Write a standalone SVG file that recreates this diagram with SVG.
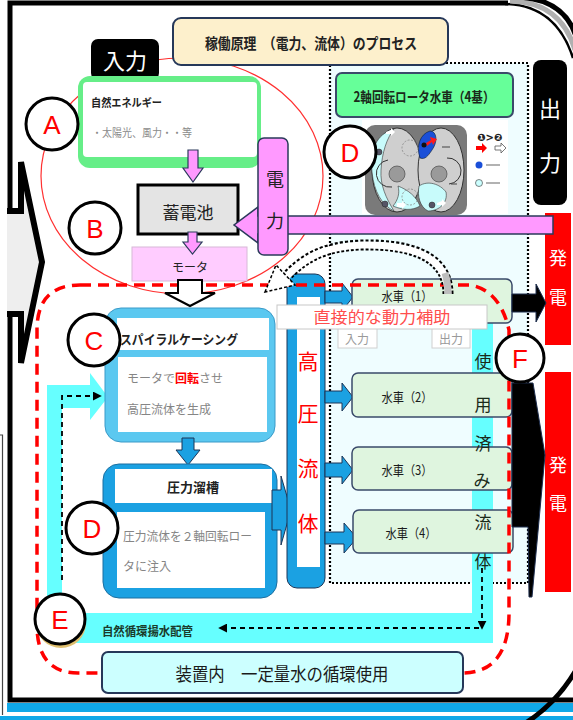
<svg xmlns="http://www.w3.org/2000/svg" width="573" height="720" viewBox="0 0 573 720">
<defs>
<style>
.jp{font-family:"Noto Sans CJK JP","Noto Sans",sans-serif;}
.b{font-weight:bold;}
.mid{text-anchor:middle;}
.nv{stroke:#263859;stroke-width:2;}
.let{font-family:"Liberation Sans",Arial,sans-serif;font-size:26px;fill:#ff0000;text-anchor:middle;}
.lc{fill:#fff;stroke:#000;stroke-width:3;}
.wheel{fill:#dff5df;stroke:#3a4a6a;stroke-width:1.5;}
.wt{font-size:13px;fill:#1a1a1a;text-anchor:middle;}
.blu{fill:#1ba1e2;stroke:#1d3557;stroke-width:1;}
.gr{fill:#858585;font-size:12px;}
.dash{fill:none;stroke:#000;stroke-width:1.8;stroke-dasharray:5 4;}
.cy{fill:#66ffff;}
.vt{font-size:17px;fill:#1a2a1a;text-anchor:middle;}
.rt{font-size:21px;fill:#ff0000;text-anchor:middle;}
</style>
<marker id="ah" viewBox="0 0 10 10" refX="8" refY="5" markerWidth="5" markerHeight="5" orient="auto"><path d="M0,0 L10,5 L0,10 Z" fill="#000"/></marker>
</defs>

<!-- page and outer frame -->
<g id="frame">
<rect width="573" height="720" fill="#fff"/>
<path d="M10,208 V3 H508" fill="none" stroke="#000" stroke-width="5"/>
<path d="M10,317 V700 H573" fill="none" stroke="#000" stroke-width="5"/>
<rect x="7" y="703" width="566" height="9" fill="#10a8e8"/>
<rect x="0" y="716" width="573" height="4" fill="#10a8e8"/>
<path d="M524,724 Q556,704 576,670" fill="none" stroke="#000" stroke-width="5"/>
<path d="M505,4 Q556,5 573,58" fill="none" stroke="#000" stroke-width="2.5"/>
<path d="M510,1 Q561,2 575,50" fill="none" stroke="#b0b0b0" stroke-width="5"/>
<path d="M515,-3 Q566,-2 577,40" fill="none" stroke="#000" stroke-width="5"/>
<path d="M0,435 H2.5 V715" fill="none" stroke="#444" stroke-width="1.2"/>
</g>

<!-- input block arrow on the left edge -->
<g id="input-arrow">
<path d="M7,211 H21 V162 L42,262 L21,363 V314 H7" fill="#eeeeee" stroke="#000" stroke-width="6" stroke-linejoin="miter"/>
</g>

<!-- water wheel area -->
<g id="wheel-area">
<rect x="330" y="63" width="198" height="520" fill="#effdff" stroke="#000" stroke-width="2.2" stroke-dasharray="2 2"/>
</g>

<ellipse id="source-ring" cx="182" cy="176" rx="141" ry="118" fill="none" stroke="#ff3030" stroke-width="1.2"/>

<g id="title">
<rect x="173" y="18" width="275" height="47" rx="8" fill="#fdf0cc" class="nv" stroke-width="2.5"/>
<text x="311" y="49" class="jp b mid" font-size="15" fill="#222" textLength="212" lengthAdjust="spacingAndGlyphs">稼働原理　（電力、流体）のプロセス</text>
</g>

<g id="input-label">
<rect x="91" y="39" width="68" height="41" rx="7" fill="#000"/>
<text x="125" y="69" class="jp mid" font-size="22" fill="#fff">入力</text>
</g>

<g id="natural-energy">
<rect x="78" y="76" width="183" height="92" rx="12" fill="#66ee88"/>
<rect x="83" y="82" width="174" height="75" rx="4" fill="#fff"/>
<text x="91" y="107" class="jp b" font-size="11" fill="#222" textLength="71" lengthAdjust="spacingAndGlyphs">自然エネルギー</text>
<text x="92" y="137" class="jp" font-size="11" fill="#8a8a8a" textLength="100" lengthAdjust="spacingAndGlyphs">・太陽光、風力・・等</text>
</g>

<g id="battery">
<rect x="138" y="185" width="100" height="49" fill="#e4e4e4" stroke="#000" stroke-width="3"/>
<text x="188" y="219" class="jp mid" font-size="17" fill="#222">蓄電池</text>
</g>

<g id="motor">
<rect x="132" y="247" width="115" height="34" fill="#ffccff" stroke="#d8b8d8" stroke-width="1"/>
<text x="190" y="272" class="jp mid" font-size="12" fill="#222">モータ</text>
</g>

<!-- pink feed arrows -->
<g id="power-arrows" fill="#ff99ff" stroke="#2a3a5a" stroke-width="1.2">
<polygon points="188,150 198,150 198,168 203,168 193,182 183,168 188,168"/>
<polygon points="188,232 197,232 197,242 202,242 192.5,254 183,242 188,242"/>
</g>

<g id="generator-1">
<rect x="545" y="213" width="26" height="132" fill="#ff0000"/>
<text x="558" y="265" class="jp mid" font-size="18" fill="#fff">発</text>
<text x="558" y="304" class="jp mid" font-size="18" fill="#fff">電</text>
</g>
<g id="generator-2">
<rect x="545" y="372" width="26" height="220" fill="#ff0000"/>
<text x="558" y="472" class="jp mid" font-size="18" fill="#fff">発</text>
<text x="558" y="510" class="jp mid" font-size="18" fill="#fff">電</text>
</g>

<g id="power-return">
<polygon points="553,216 553,234 258,234 258,243 234,225 258,207 258,216" fill="#ff99ff" stroke="#2a3a5a" stroke-width="1.5"/>
</g>

<g id="power-label">
<rect x="258" y="138" width="30" height="117" rx="6" fill="#ff99ff" stroke="#2a3a5a" stroke-width="1.5"/>
<text x="275" y="186" class="jp mid" font-size="18" fill="#222">電</text>
<text x="275" y="228" class="jp mid" font-size="18" fill="#222">力</text>
</g>

<g id="output-label">
<rect x="533" y="60" width="34" height="145" rx="8" fill="#000"/>
<text x="550" y="117" class="jp mid" font-size="22" fill="#fff">出</text>
<text x="550" y="171" class="jp mid" font-size="22" fill="#fff">力</text>
</g>

<g id="rotor-title">
<rect x="336" y="73" width="177" height="44" rx="6" fill="#66ff99" stroke="#3a4a6a" stroke-width="2"/>
<text x="424" y="102" class="jp b mid" font-size="14" fill="#1a2a1a" textLength="141" lengthAdjust="spacingAndGlyphs">2軸回転ロータ水車（4基）</text>
</g>

<!-- twin rotor sketch -->
<g id="rotor">
<rect x="362" y="120" width="146" height="94" fill="#fff"/>
<rect x="365" y="125" width="102" height="90" rx="10" fill="#7a7a7a"/>
<ellipse cx="397" cy="170" rx="25" ry="42" fill="#cfcfcf" stroke="#333" stroke-width="1"/>
<ellipse cx="441" cy="170" rx="23" ry="42" fill="#cfcfcf" stroke="#333" stroke-width="1"/>
<path d="M394,129 C376,134 370,150 372,172 C374,192 382,205 394,211 C386,198 380,185 381,170 C382,152 387,138 394,129 Z" fill="#c8fbfb" stroke="#333" stroke-width="0.6"/>
<path d="M398,186 C408,190 416,196 420,206 C412,211 402,210 393,206 C398,200 400,193 398,186 Z" fill="#c8fbfb" stroke="#333" stroke-width="0.6"/>
<path d="M419,186 C428,180 440,184 446,192 C448,202 440,211 428,211 C420,207 417,196 419,186 Z" fill="#c8fbfb" stroke="#333" stroke-width="0.6"/>
<path d="M420,158 C416,146 420,134 430,131 C437,131 438,142 432,150 C428,156 425,160 420,158 Z" fill="#1a4fd8" stroke="#123" stroke-width="0.6"/>
<polygon points="426,143 431,140 430,137 437,139 433,145 432,142 427,146" fill="#ff1a1a"/>
<circle cx="424" cy="145" r="2.5" fill="#111"/>
<circle cx="397" cy="174" r="8" fill="#9a9a9a" stroke="#555" stroke-width="0.8"/>
<circle cx="439" cy="174" r="8" fill="#9a9a9a" stroke="#555" stroke-width="0.8"/>
<circle cx="410" cy="148" r="8" fill="none" stroke="#888" stroke-width="0.8" stroke-dasharray="2 1.5"/>
<circle cx="410" cy="197" r="8" fill="none" stroke="#888" stroke-width="0.8" stroke-dasharray="2 1.5"/>
<path d="M388,160 A12,12 0 0 0 392,187" fill="none" stroke="#333" stroke-width="1"/>
<path d="M447,158 A12,12 0 0 1 449,184" fill="none" stroke="#333" stroke-width="1"/>
<circle cx="379" cy="152" r="3" fill="#556" stroke="#222" stroke-width="0.5"/>
<circle cx="385" cy="204" r="3" fill="#556" stroke="#222" stroke-width="0.5"/>
<circle cx="432" cy="205" r="3" fill="#556" stroke="#222" stroke-width="0.5"/>
<path d="M386,132 l5,-2 v-2 l4,4 l-4,4 v-2 l-5,0 z" fill="#fff"/>
<path d="M397,203 l5,0 v-2 l4,4 l-4,4 v-2 l-5,0 z" fill="#fff"/>
<path d="M437,203 l5,-2 v-2 l4,4 l-4,4 v-2 l-5,0 z" fill="#fff"/>
<path d="M442,147 h8 M451,184 h6" stroke="#444" stroke-width="1.2"/>
<text x="477" y="141" font-family="DejaVu Sans,sans-serif" font-size="10" font-weight="bold" fill="#222">❶&gt;❷</text>
<polygon points="476,146 482,146 482,143 487,148 482,153 482,150 476,150" fill="#ff0000"/>
<polygon points="495,146 501,146 501,143 506,148 501,153 501,150 495,150" fill="#fff" stroke="#555" stroke-width="0.8"/>
<circle cx="479" cy="165" r="3.5" fill="#1a4fd8"/>
<circle cx="479" cy="183" r="3.5" fill="#ccffff" stroke="#333" stroke-width="0.6"/>
<path d="M486,165 h14 M486,183 h14" stroke="#999" stroke-width="1.5"/>
</g>

<!-- return piping -->
<g id="return-pipe">
<rect x="472" y="288" width="21" height="355" class="cy"/>
<rect x="47" y="613" width="446" height="30" class="cy"/>
<rect x="47" y="385" width="15" height="258" class="cy"/>
<polygon points="47,385 90,385 90,373 108,397 90,420 90,408 47,408" class="cy"/>
</g>

<g id="spiral-casing">
<rect x="105" y="308" width="170" height="134" rx="16" fill="#5bc8f0" stroke="#3a9ac8" stroke-width="1"/>
<rect x="117" y="318" width="152" height="32" fill="#fff"/>
<rect x="118" y="357" width="149" height="75" fill="#fff"/>
<text x="120" y="344" class="jp b" font-size="13" fill="#222" textLength="118" lengthAdjust="spacingAndGlyphs">スパイラルケーシング</text>
<text x="127" y="383" class="jp" font-size="12" fill="#858585">モータで<tspan fill="#ff0000" font-weight="bold">回転</tspan>させ</text>
<text x="127" y="414" class="jp gr">高圧流体を生成</text>
</g>

<polygon id="casing-to-tank" points="182,438 194,438 194,450 200,450 188,465 176,450 182,450" class="blu"/>

<g id="pressure-tank">
<rect x="103" y="464" width="174" height="134" rx="16" fill="#1ba1e2" stroke="#1d6fa0" stroke-width="1"/>
<rect x="115" y="469" width="157" height="34" fill="#fff"/>
<rect x="117" y="512" width="148" height="76" fill="#fff"/>
<text x="193" y="492" class="jp b mid" font-size="13" fill="#222">圧力溜槽</text>
<text x="123" y="541" class="jp gr" textLength="129" lengthAdjust="spacingAndGlyphs">圧力流体を２軸回転ロー</text>
<text x="123" y="571" class="jp gr">タに注入</text>
</g>

<polygon id="tank-to-column" points="272,490 281,490 281,476 291,510 281,545 281,530 272,530" class="blu"/>

<g id="high-pressure-column">
<rect x="287" y="274" width="38" height="314" rx="10" fill="#1ba1e2" stroke="#1d3557" stroke-width="1"/>
<rect x="297" y="297" width="23" height="270" fill="#fff"/>
<text x="308" y="369" class="jp rt">高</text>
<text x="308" y="421" class="jp rt">圧</text>
<text x="308" y="476" class="jp rt">流</text>
<text x="308" y="531" class="jp rt">体</text>
</g>

<g id="feed-arrows">
<polygon points="325,291 342,291 342,283 353,297 342,311 342,303 325,303" class="blu"/>
<polygon points="325,391 342,391 342,383 353,397 342,411 342,403 325,403" class="blu"/>
<polygon points="325,463 342,463 342,456 353,470 342,484 342,477 325,477" class="blu"/>
<polygon points="325,532 344,532 344,523 357,538 344,553 344,544 325,544" class="blu"/>
</g>

<g id="wheel-1">
<rect x="352" y="279" width="160" height="44" rx="6" class="wheel"/>
<text x="407" y="301" class="jp wt" font-size="12" textLength="51" lengthAdjust="spacingAndGlyphs">水車（1）</text>
</g>
<g id="wheel-2">
<rect x="352" y="373" width="160" height="44" rx="6" class="wheel"/>
<text x="407" y="402" class="jp wt" textLength="51" lengthAdjust="spacingAndGlyphs">水車（2）</text>
</g>
<g id="wheel-3">
<rect x="352" y="447" width="160" height="43" rx="6" class="wheel"/>
<text x="407" y="475" class="jp wt" textLength="51" lengthAdjust="spacingAndGlyphs">水車（3）</text>
</g>
<g id="wheel-4">
<rect x="353" y="510" width="160" height="43" rx="6" class="wheel"/>
<text x="411" y="538" class="jp wt" textLength="51" lengthAdjust="spacingAndGlyphs">水車（4）</text>
</g>

<g id="port-labels">
<rect x="338" y="327" width="39" height="21" fill="#fff" stroke="#d0d0d0" stroke-width="1"/>
<text x="357" y="344" class="jp mid" font-size="12" fill="#9a9a9a">入力</text>
<rect x="432" y="327" width="38" height="21" fill="#fff" stroke="#d0d0d0" stroke-width="1"/>
<text x="451" y="344" class="jp mid" font-size="12" fill="#9a9a9a">出力</text>
</g>

<g id="output-arrows" fill="#000" stroke="#1d2d4d" stroke-width="1">
<polygon points="512,294 536,294 536,284 546,303 536,322 536,312 512,312"/>
<polygon points="512,383 533,383 545,455 532,597 529,597 528,527 512,527"/>
</g>

<!-- dashed flow lines -->
<g id="connectors">
<path d="M62,580 V396 H100" class="dash" marker-end="url(#ah)"/>
<path d="M482,568 V628" class="dash" marker-end="url(#ah)"/>
<path d="M479,628 H220" class="dash" marker-end="url(#ah)"/>
<path d="M80,285 L470,285 Q500,290 509,330 L509,615 Q508,673 462,673 L78,673 Q37,673 37,625 L37,330 Q37,285 80,285 Z" fill="none" stroke="#ff0000" stroke-width="3.5" stroke-dasharray="11 7"/>
<path d="M448,294 C448,252 402,244 362,245 C322,246 302,260 286,277" fill="none" stroke="#000" stroke-width="11" stroke-dasharray="3 2"/>
<path d="M448,294 C448,252 402,244 362,245 C322,246 302,260 286,277" fill="none" stroke="#fff" stroke-width="7"/>
<path d="M448,294 C448,285 447,279 445,273" fill="none" stroke="#bdbdbd" stroke-width="7"/>
<polygon points="265,292 276,265 295,285" fill="#fff" stroke="#000" stroke-width="1.5" stroke-dasharray="3 2"/>
</g>

<polygon id="motor-shaft" points="178,280 202,280 202,293 215,293 190,306 165,293 178,293" fill="#fff" stroke="#000" stroke-width="2"/>

<g id="assist-label">
<rect x="277" y="305" width="210" height="24" fill="#fff" stroke="#c8c8c8" stroke-width="1"/>
<text x="382" y="323" class="jp mid" font-size="16" fill="#ff4d4d" textLength="137" lengthAdjust="spacingAndGlyphs">直接的な動力補助</text>
</g>

<text id="pipe-label" x="102" y="636" class="jp b" font-size="12" fill="#1a3a2a" textLength="91" lengthAdjust="spacingAndGlyphs">自然循環揚水配管</text>

<g id="used-fluid-label" class="jp">
<text x="483" y="368" class="vt">使</text>
<text x="483" y="411" class="vt">用</text>
<text x="483" y="450" class="vt">済</text>
<text x="482" y="487" class="vt">み</text>
<text x="483" y="529" class="vt">流</text>
<text x="483" y="568" class="vt">体</text>
</g>

<g id="circulation-box">
<rect x="102" y="652" width="361" height="41" rx="6" fill="#ccffff" stroke="#263859" stroke-width="2"/>
<text x="282" y="681" class="jp mid" font-size="18" fill="#1a1a1a" textLength="213" lengthAdjust="spacingAndGlyphs">装置内　一定量水の循環使用</text>
</g>

<!-- section markers -->
<g id="marker-A"><circle cx="52" cy="124" r="26" class="lc"/><text x="52" y="134" class="let">A</text></g>
<g id="marker-B"><circle cx="95" cy="228" r="26" class="lc"/><text x="95" y="238" class="let">B</text></g>
<g id="marker-C"><circle cx="94" cy="340" r="26" class="lc"/><text x="94" y="350" class="let">C</text></g>
<g id="marker-D1"><circle cx="350" cy="152" r="26" class="lc"/><text x="350" y="162" class="let">D</text></g>
<g id="marker-D2"><circle cx="92" cy="528" r="26" class="lc"/><text x="92" y="538" class="let">D</text></g>
<g id="marker-E"><circle cx="61" cy="623" r="25" fill="#e0c070"/><circle cx="60" cy="619" r="25" class="lc"/><text x="60" y="629" class="let">E</text></g>
<g id="marker-F"><circle cx="520" cy="358" r="24" class="lc"/><text x="520" y="368" class="let">F</text></g>
</svg>
